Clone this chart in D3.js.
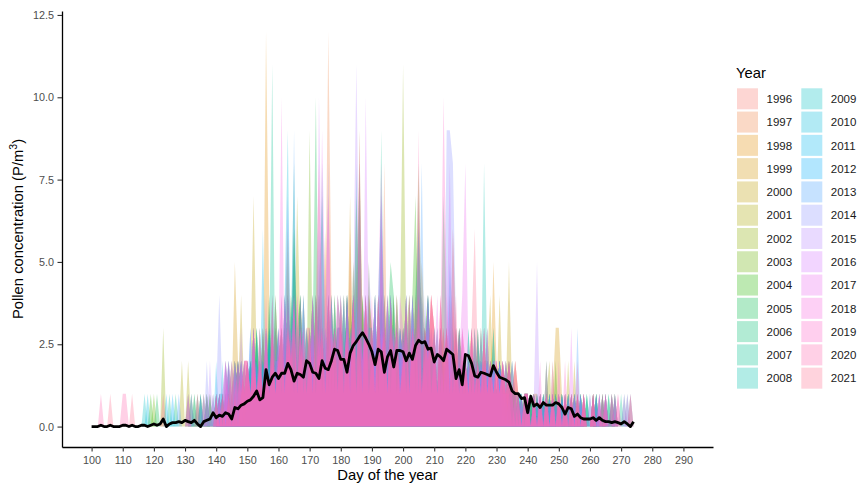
<!DOCTYPE html>
<html>
<head>
<meta charset="utf-8">
<script src="https://cdn.jsdelivr.net/npm/d3@7"></script>
<style>
  body { margin: 0; background: #fff; }
  svg { display: block; font-family: "Liberation Sans", Arial, sans-serif; }
</style>
</head>
<body>
<div id="chart"></div>
<script>
const years = d3.range(1996, 2022);
const firstDay = 100;

// daily pollen counts per year, one character per day (base 36: a=10, b=11, c=12),
// blocks of ten days starting at day 100
const dailyCounts = [
  "0000000000 0000000000 0000000000 0000000001 0000100101 1010211213 2123121312 2314122131 3216231423 2131241312 3122171241 2131212311 1210121101 1101011001 0100100010 0100010000 0000100000 00000",
  "0000000000 0000000000 0000000000 0000100000 0001010120 1201131221 2315142213 231423c412 3241532314 2312813221 3213142321 2312132121 2121312011 1201010101 1010010001 0010100010 0100000000 00000",
  "0000000000 0000000000 0000000000 0000010000 0100101211 213121c413 2314213142 3124261423 2413251324 3142312413 2314235324 3123142132 1231212215 2121211010 1011010100 1001010010 0100010000 00000",
  "0000000000 0000000000 0000000000 0000001000 0101015210 1212131214 2131241312 1213212412 3127132413 2131423121 2314231212 1213126312 2121312121 1212112101 1010101013 3100101000 0010000100 00000",
  "0000000000 0000000000 0000000000 0000000100 0010102141 1272131312 2136231421 2314213123 2413148314 3124131241 2131421312 2121312131 1212131241 1411510101 0101001020 1010020100 0100000010 00000",
  "0000000000 0000000000 0000000002 0200000010 0101012101 1213121314 2131427312 2413123142 3142413215 2416123142 3142314213 2131212312 1212121312 1211201010 1010101201 0102010100 0010100000 00000",
  "0000000000 0000000000 0003000000 0000000100 1010120101 1212131213 2132162131 2413124132 3142319231 2314132413 b342231312 2131213121 1212131212 1212101101 0101010101 0100100100 0010000100 00000",
  "0000000000 0000000000 1000000000 0001000010 0102101210 1213121412 2131421321 9243123142 2314231423 1312413213 2131483121 2131212131 1212121212 1101210101 1010102010 0101010100 0000100010 00000",
  "0000000000 0000000001 0000000000 0010000000 0010101201 1121312131 2131263412 2142313213 3241374132 2413142313 2314721342 2132121312 1213121212 1201011010 0101010102 0010101001 0100010000 00000",
  "0000000000 0000000000 0100000000 0000010000 1010201121 2131213141 2314231421 13a2413214 3142413241 3124135413 2413213241 3127312132 1312121213 1210110101 1010100101 0010010010 0001000000 00000",
  "0000000000 0000000000 0000000100 0100000100 0101012102 1213121321 3142381312 2413214231 4231527132 3142314231 3213162312 2131312121 2121213121 1121010110 1010101010 1001001000 0100001000 00000",
  "0000000000 0000000000 0000010000 0000100010 1010210121 21312132b1 3142312413 2314731423 3241324132 2419241312 3142313241 2131213121 2121312121 1210121010 1010010101 0101001001 0010001000 10000",
  "0000000000 0000000000 0000000000 0010000100 0101102121 1213121312 2131261321 3142314213 2413182413 3124213142 2413214231 3121312131 2131218212 1212121010 1010101010 0101010100 0010010010 01000",
  "0000000000 0000000100 0000000000 0001000000 0110102112 1213121412 2314213142 2131823121 3142413241 2314231423 2131463142 2312131212 1213121312 1201210101 1010102010 0101010010 0100100000 00100",
  "0000000000 0000000010 0000000000 0000010000 1020101211 2131213131 2149121413 1214231423 3241324241 2413124131 3124131242 2131253121 1312121213 1210110101 0101010100 1010010101 0010100010 00010",
  "0000000000 0000000000 0000100000 0000001000 2010101210 1212161214 2131421313 2413124132 3142318231 2413214231 2314231241 2131213121 1213121212 1210101101 0101010010 0010100100 1000010000 00000",
  "0000000000 0000000000 0000001000 0000000001 0101201121 1312121312 3142131241 2316213142 4132413241 3147314213 2413241312 3121312131 2121312121 1211010110 1001010101 0100100100 0010000100 00000",
  "0000000000 0000000000 0000000010 0000010000 0102101211 2121312131 2314291421 3142314231 2413241324 1312413213 2413128131 2131212131 1212131212 1121011010 1010100101 0100103000 0001000100 00000",
  "0000000000 0000000000 0000000000 0000000200 1410121212 1312131213 2137241312 3124132413 2413241325 3142314231 2314231423 2131998312 1212131212 1211210101 1010101010 1001010100 0100010000 00000",
  "0000000000 0000000000 0000000000 0000000020 1012102131 2131213121 2314213142 2413128131 32314b4231 2413241312 3124171241 2312131213 1212121312 1212101101 1015010101 0101010010 0010010000 00000",
  "0000000000 0000000000 0000000000 0010000001 0101212021 2131213121 2413241312 231a412413 31423121a3 2416142313 2314231241 3121382131 2131212121 1212101010 1010101010 1010010100 0100100010 00000",
  "0000000000 0000000000 0000000000 0100000100 0102012121 2121312131 3142314231 2413941324 3142413241 2417241324 3142314213 2413241324 8213121312 2121210101 1010101020 1010301010 0101000100 01000",
  "0000000000 0000000000 0000000000 0000001000 1012101212 2131213142 2a13241321 3142314231 4231423142 3148314231 2413241324 3142316213 2131213121 2121121010 1010201010 2010101010 1001010010 00100",
  "0000000000 0000000000 0000000000 0100000000 0101210121 2131213141 3142314231 2413247324 3142419242 4132413241 3142413241 213a421312 2131213121 2121210101 1010102010 1020101010 0101010001 00000",
  "0001000000 1100000000 0000000000 0000100000 1010121012 2131214131 2413241312 3142314231 4132418241 3142314231 2413291324 3142312413 2131213121 2121212101 1010101010 1010102010 0100010001 00010",
  "0000001000 0001000000 0001000000 0000000000 1010101212 2121312131 2314231423 3148314232 4231423142 3142314231 2413241324 3142314231 2136213121 2121212101 1010101010 1010101010 0100100100 00010"
];

// mean concentration across years, days 100..274
const meanCounts = [
  0, 0, 0, 0.04, 0, 0, 0.04, 0, 0, 0,
  0.04, 0.04, 0, 0.04, 0, 0, 0.04, 0.04, 0, 0.04,
  0.08, 0.04, 0.08, 0.23, 0, 0.08, 0.12, 0.12, 0.15, 0.12,
  0.19, 0.15, 0.12, 0.19, 0.08, 0, 0.15, 0.19, 0.23, 0.42,
  0.27, 0.35, 0.31, 0.42, 0.38, 0.23, 0.58, 0.54, 0.65, 0.69,
  0.77, 0.81, 0.92, 1.08, 0.81, 0.88, 1.73, 1.27, 1.5, 1.62,
  1.46, 1.62, 1.62, 1.92, 1.73, 1.38, 1.62, 1.58, 1.5, 2.0,
  1.92, 1.65, 1.62, 1.46, 2.0, 1.77, 1.73, 2.0, 2.35, 2.31,
  2.04, 2.04, 1.65, 2.23, 2.46, 2.58, 2.73, 2.85, 2.69, 2.5,
  2.27, 1.88, 2.35, 2.27, 1.65, 2.12, 2.31, 1.81, 2.31, 2.31,
  2.27, 2.0, 2.23, 2.04, 2.46, 2.62, 2.54, 2.58, 2.35, 2.38,
  1.96, 2.19, 2.12, 2.0, 2.35, 2.27, 2.19, 1.46, 1.73, 1.27,
  2.19, 2.15, 1.92, 1.54, 1.5, 1.65, 1.62, 1.58, 1.54, 1.85,
  1.65, 1.5, 1.46, 1.42, 1.35, 1.08, 1.0, 1.0, 0.85, 0.88,
  0.42, 0.92, 0.62, 0.69, 0.58, 0.73, 0.65, 0.65, 0.65, 0.73,
  0.69, 0.58, 0.38, 0.58, 0.54, 0.31, 0.38, 0.27, 0.23, 0.23,
  0.23, 0.27, 0.19, 0.27, 0.19, 0.15, 0.15, 0.12, 0.15, 0.12,
  0.08, 0.15, 0.08, 0, 0.15
];

const xTicks = d3.range(100, 291, 10);
const yTicks = [0, 2.5, 5, 7.5, 10, 12.5];

const width = 857, height = 486;
const margin = { left: 62, right: 144, top: 11, bottom: 39 };

// ggplot-like hue palette (polar LUV -> sRGB)
function hclLuv(h, c, l) {
  const hr = h * Math.PI / 180;
  const u = c * Math.cos(hr), v = c * Math.sin(hr);
  const Xn = 95.047, Yn = 100, Zn = 108.883;
  const den = Xn + 15 * Yn + 3 * Zn;
  const un = 4 * Xn / den, vn = 9 * Yn / den;
  const Y = l > 8 ? Yn * Math.pow((l + 16) / 116, 3) : Yn * l / 903.3;
  const up = u / (13 * l) + un, vp = v / (13 * l) + vn;
  const X = 9 * Y * up / (4 * vp);
  const Z = Y * (12 - 3 * up - 20 * vp) / (4 * vp);
  const x = X / 100, y = Y / 100, z = Z / 100;
  const lin = [
    3.2404542 * x - 1.5371385 * y - 0.4985314 * z,
    -0.9692660 * x + 1.8760108 * y + 0.0415560 * z,
    0.0556434 * x - 0.2040259 * y + 1.0572252 * z
  ];
  const g = lin.map(t => {
    t = t <= 0.0031308 ? 12.92 * t : 1.055 * Math.pow(t, 1 / 2.4) - 0.055;
    return Math.round(Math.max(0, Math.min(1, t)) * 255);
  });
  return d3.rgb(g[0], g[1], g[2]).formatHex();
}

const yearColor = {};
years.forEach((yr, i) => {
  yearColor[yr] = hclLuv(15 + 360 * i / years.length, 100, 65);
});

const series = years.map((yr, i) => {
  const chars = dailyCounts[i].replace(/\s/g, '').split('');
  return {
    year: yr,
    values: chars.map((ch, j) => ({ day: firstDay + j, value: parseInt(ch, 36) }))
  };
});
const meanSeries = meanCounts.map((v, j) => ({ day: firstDay + j, value: v }));

const svg = d3.select('#chart').append('svg')
  .attr('width', width)
  .attr('height', height);

const x = d3.scaleLinear().domain([90.5, 299.5]).range([margin.left, width - margin.right]);
const y = d3.scaleLinear().domain([-0.62, 12.62]).range([height - margin.bottom, margin.top]);

const area = d3.area()
  .x(d => x(d.day))
  .y0(y(0))
  .y1(d => y(d.value));

svg.append('g')
  .selectAll('path')
  .data(series)
  .enter()
  .append('path')
  .attr('d', d => area(d.values))
  .attr('fill', d => yearColor[d.year])
  .attr('fill-opacity', 0.3);

const line = d3.line()
  .x(d => x(d.day))
  .y(d => y(d.value));

svg.append('path')
  .datum(meanSeries)
  .attr('d', line)
  .attr('fill', 'none')
  .attr('stroke', '#000')
  .attr('stroke-width', 2.8)
  .attr('stroke-linejoin', 'round');

// axes
const xAxis = svg.append('g')
  .attr('transform', `translate(0,${height - margin.bottom})`)
  .call(d3.axisBottom(x).tickValues(xTicks).tickSize(4.5).tickSizeOuter(0).tickPadding(4.5));
const yAxis = svg.append('g')
  .attr('transform', `translate(${margin.left},0)`)
  .call(d3.axisLeft(y).tickValues(yTicks).tickFormat(d3.format('.1f')).tickSize(4.5).tickSizeOuter(0).tickPadding(3.5));

[xAxis, yAxis].forEach(g => {
  g.select('.domain').attr('stroke', '#000').attr('stroke-width', 1.3);
  g.selectAll('.tick line').attr('stroke', '#333').attr('stroke-width', 1.1);
  g.selectAll('.tick text')
    .attr('fill', '#4d4d4d')
    .style('font-size', '10.8px')
    .style('font-family', '"Liberation Sans", Arial, sans-serif');
});

svg.append('text')
  .attr('x', (x.range()[0] + x.range()[1]) / 2)
  .attr('y', 480)
  .attr('text-anchor', 'middle')
  .style('font-size', '14.8px')
  .text('Day of the year');

const yTitle = svg.append('text')
  .attr('transform', `translate(23,${(y.range()[0] + y.range()[1]) / 2}) rotate(-90)`)
  .attr('text-anchor', 'middle')
  .style('font-size', '14.8px');
yTitle.append('tspan').text('Pollen concentration (P/m');
yTitle.append('tspan').attr('dy', -6).style('font-size', '10.5px').text('3');
yTitle.append('tspan').attr('dy', 6).text(')');

// legend
const legend = svg.append('g');
legend.append('text')
  .attr('x', 736)
  .attr('y', 78)
  .style('font-size', '14.8px')
  .text('Year');

const rows = 13;
const keyItems = legend.selectAll('g.key')
  .data(years)
  .enter()
  .append('g')
  .attr('class', 'key')
  .attr('transform', (d, i) => `translate(${737 + Math.floor(i / rows) * 64.3},${88.3 + (i % rows) * 23.28})`);

keyItems.append('rect')
  .attr('width', 21)
  .attr('height', 21)
  .attr('fill', d => yearColor[d])
  .attr('fill-opacity', 0.3);

keyItems.append('text')
  .attr('x', 29.5)
  .attr('y', 14.8)
  .style('font-size', '11.5px')
  .attr('fill', '#1a1a1a')
  .text(d => d);
</script>
</body>
</html>
